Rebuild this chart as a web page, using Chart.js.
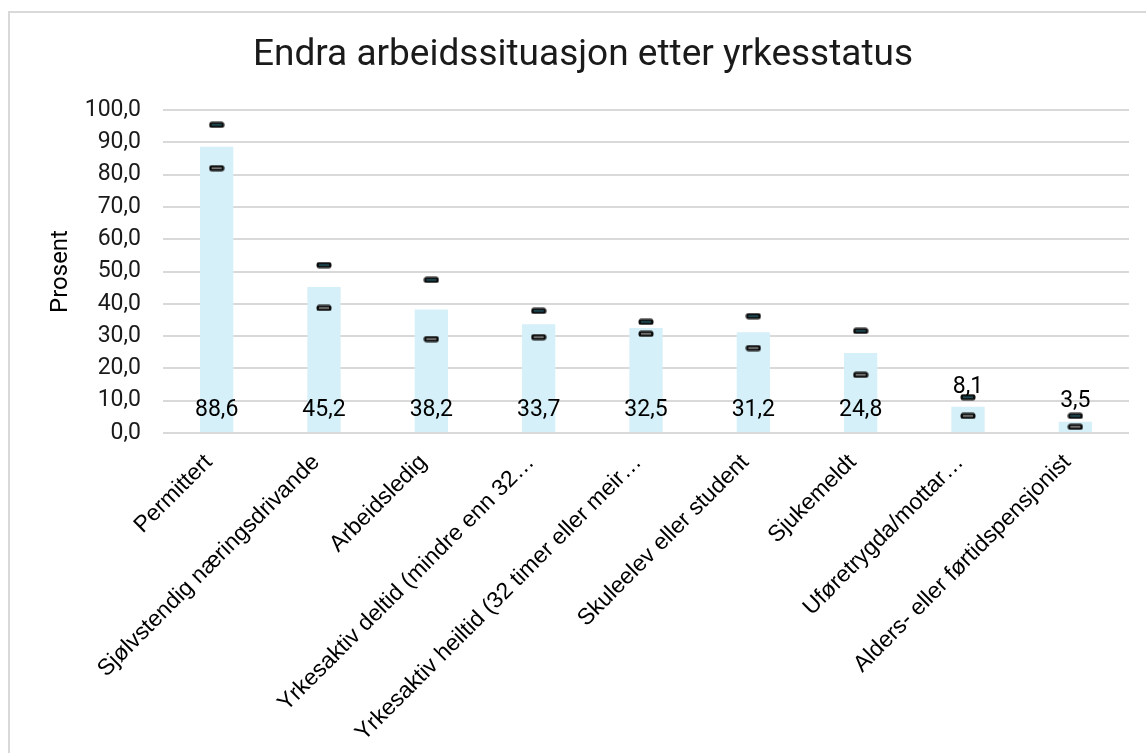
<!DOCTYPE html>
<html>
<head>
<meta charset="utf-8">
<script src="https://cdn.jsdelivr.net/npm/chart.js@4.4.1/dist/chart.umd.min.js"></script>
<style>
  html, body { margin: 0; padding: 0; background: #fff; overflow: hidden; }
  #frame { position: absolute; left: 8px; top: 11px; width: 1200px; height: 800px; border: 2px solid #d9d9d9; }
  #wrap { position: absolute; left: 0; top: 0; width: 1146px; height: 753px; }
</style>
</head>
<body>
<div id="frame"></div>
<div id="wrap"><canvas id="chart" width="1146" height="753"></canvas></div>
<script>
// Data
const categories = [
  "Permittert",
  "Sjølvstendig næringsdrivande",
  "Arbeidsledig",
  "Yrkesaktiv deltid (mindre enn 32…",
  "Yrkesaktiv heiltid (32 timer eller meir…",
  "Skuleelev eller student",
  "Sjukemeldt",
  "Uføretrygda/mottar…",
  "Alders- eller førtidspensjonist"
];
const values = [88.6, 45.2, 38.2, 33.7, 32.5, 31.2, 24.8, 8.1, 3.5];
const upperCI = [95.4, 52.0, 47.4, 37.8, 34.4, 36.2, 31.6, 11.1, 5.3];
const lowerCI = [82.0, 38.7, 29.1, 29.7, 30.7, 26.3, 18.0, 5.3, 1.9];

const fmt = v => v.toFixed(1).replace(".", ",");

// small black dash used as error marker
function makeMarker(inner) {
  const c = document.createElement("canvas");
  c.width = 16;
  c.height = 7;
  const g = c.getContext("2d");
  g.fillStyle = "#0d0d0d";
  g.beginPath();
  g.roundRect(0.5, 0.5, 15, 6, 2.5);
  g.fill();
  g.fillStyle = inner;
  g.fillRect(3, 2.8, 10, 1.4);
  return c;
}

// value labels: inside the base, or above the bar when it is too short
const barLabels = {
  id: "barLabels",
  afterDatasetsDraw(chart) {
    const meta = chart.getDatasetMeta(0);
    const ctx = chart.ctx;
    ctx.save();
    ctx.font = "23px Roboto";
    ctx.fillStyle = "#000";
    ctx.textAlign = "center";
    ctx.textBaseline = "middle";
    meta.data.forEach((bar, i) => {
      const h = bar.base - bar.y;
      const y = h > 40 ? bar.base - 22 : bar.y - 20;
      ctx.fillText(fmt(values[i]), bar.x, y);
    });
    ctx.restore();
  }
};

const ctx = document.getElementById("chart").getContext("2d");

new Chart(ctx, {
  type: "bar",
  data: {
    labels: categories,
    datasets: [
      {
        label: "Prosent",
        data: values,
        backgroundColor: "#d5f0f8",
        barPercentage: 0.31,
        categoryPercentage: 1,
        order: 2
      },
      {
        type: "line",
        label: "Øvre",
        data: upperCI,
        showLine: false,
        pointStyle: makeMarker("#23606e"),
        pointRadius: 8,
        order: 1
      },
      {
        type: "line",
        label: "Nedre",
        data: lowerCI,
        showLine: false,
        pointStyle: makeMarker("#9a9a9a"),
        pointRadius: 8,
        order: 1
      }
    ]
  },
  options: {
    responsive: false,
    animation: false,
    layout: { padding: { left: 37, right: 17, top: 0, bottom: 0 } },
    plugins: {
      legend: { display: false },
      tooltip: { enabled: false },
      title: {
        display: true,
        text: "Endra arbeidssituasjon etter yrkesstatus",
        color: "#1a1a1a",
        font: { family: "Roboto", size: 37, weight: "normal" },
        padding: { top: 34, bottom: 31.6 }
      }
    },
    scales: {
      x: {
        grid: { display: false },
        border: { display: false },
        afterFit: scale => { scale.height = 320; },
        ticks: {
          color: "#000",
          font: { family: "'Liberation Sans', Arial", size: 23 },
          maxRotation: 45,
          minRotation: 45,
          autoSkip: false,
          padding: 8,
          labelOffset: -8
        }
      },
      y: {
        min: 0,
        max: 100,
        afterFit: scale => { scale.width = 126; },
        grid: { color: "#d9d9d9", lineWidth: 2, drawTicks: false },
        border: { display: false },
        ticks: {
          stepSize: 10,
          color: "#1a1a1a",
          font: { family: "Roboto", size: 23 },
          padding: 22,
          callback: v => fmt(v)
        },
        title: {
          display: true,
          text: "Prosent",
          color: "#000",
          font: { family: "Roboto", size: 24 },
          padding: { top: 10, bottom: 7 }
        }
      }
    }
  },
  plugins: [barLabels]
});
</script>
</body>
</html>
